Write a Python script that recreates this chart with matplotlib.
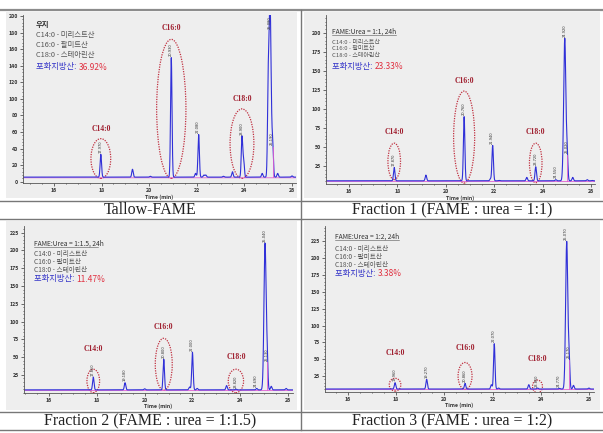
import numpy as np
import matplotlib
matplotlib.use("Agg")
import matplotlib.pyplot as plt
from matplotlib.patches import Ellipse, Rectangle
from matplotlib.ticker import MultipleLocator, AutoMinorLocator

plt.rcParams['font.family'] = ['Noto Sans CJK KR', 'DejaVu Sans']

# ==========================================
# Data (peaks)
# ==========================================

baseline = [5.5, 5.5, 4.0, 5.6]

t1 = [17.97, 19.30, 20.05, 20.93, 21.95, 22.08, 22.30, 22.38, 23.12, 23.50, 23.90, 23.97, 24.75, 25.00, 25.08, 25.19, 25.40, 26.00]
h1 = [33, 15, 6.5, 150, 10, 57, 8, 8, 6.5, 12, 54, 26, 10, 92, 215, 42, 10, 7]

t2 = [17.87, 19.18, 20.76, 21.85, 21.94, 22.20, 23.35, 23.72, 24.55, 24.92, 25.02, 25.25, 25.85, 26.05]
h2 = [23, 13, 90, 8, 52, 6, 10, 24, 7, 193, 40, 10, 7, 6]

t3 = [17.85, 19.18, 20.00, 20.80, 21.88, 22.00, 22.20, 23.43, 23.82, 24.69, 25.04, 25.13, 25.30, 25.92]
h3 = [22, 14, 5.5, 47, 8, 57, 6, 10, 5, 6, 210, 43, 9, 6]

t4 = [17.96, 19.27, 20.00, 20.86, 21.95, 22.07, 22.25, 23.50, 23.86, 24.77, 25.07, 25.17, 25.35, 25.99]
h4 = [15, 20, 5.5, 14, 12, 73, 7, 12, 7, 6.5, 225, 49, 11, 7]

# labelled peaks (index into the lists above)
lab1 = [0, 3, 5, 10, 14, 15]
lab2 = [0, 2, 4, 7, 8, 9, 10]
lab3 = [0, 1, 3, 5, 8, 9, 10, 11]
lab4 = [0, 1, 3, 5, 8, 9, 10, 11]

# C14/C16/C18 circles: (peak index, y centre, width, height, label y)
circ1 = [(0, 28, 0.83, 48, 59), (3, 88, 1.23, 168, 181), (10, 46, 1.0, 84, 95)]
circ2 = [(0, 31, 0.52, 48, 64), (2, 63, 0.87, 121, 131), (7, 29, 0.52, 52, 64)]
circ3 = [(0, 16.5, 0.53, 33, 56), (3, 40, 0.71, 73, 87), (8, 16.5, 0.64, 33, 44)]
circ4 = [(0, 12, 0.48, 19, 53), (3, 25, 0.58, 40, 61), (8, 9.5, 0.41, 19, 45)]
circ_names = ["C14:0", "C16:0", "C18:0"]

headers = ["우지", "FAME:Urea = 1:1, 24h", "FAME:Urea = 1:1.5, 24h", "FAME:Urea = 1:2, 24h"]
sat_pct = ["36.92%", "23.33%", "11.47%", "3.38%"]
acids = ["C14:0 - 미리스트산", "C16:0 - 팔미트산", "C18:0 - 스테아린산"]
captions = ["Tallow-FAME", "Fraction 1 (FAME : urea = 1:1)",
            "Fraction 2 (FAME : urea = 1:1.5)", "Fraction 3 (FAME : urea = 1:2)"]

y_limits = [(-1.6, 201.4), (1.3, 223.6), (0.0, 234.4), (1.6, 248.0)]
x_limits = [(14.70, 26.17), (15.05, 26.17), (14.95, 26.21), (15.06, 26.20)]
y_steps = [20, 25, 25, 25]

# ==========================================
# Layout (pixels)
# ==========================================

W, H = 603, 433
fig = plt.figure(figsize=(W / 100, H / 100), dpi=100)


def frac(x0, y0, x1, y1):
    return [x0 / W, 1 - y1 / H, (x1 - x0) / W, (y1 - y0) / H]


bg = fig.add_axes([0, 0, 1, 1])
bg.set_xlim(0, W)
bg.set_ylim(H, 0)
bg.axis("off")

# grey screenshot backgrounds
for (x0, y0, x1, y1) in [(6, 12, 297, 198), (304, 12, 600, 198), (6, 221, 297, 410), (304, 221, 600, 410)]:
    bg.add_patch(Rectangle((x0, y0), x1 - x0, y1 - y0, color="#eeeeee", lw=0, zorder=0))

# table lines
bg.plot([0, W], [10, 10], color="#8c8c8c", lw=1.6)
for yy in [201, 219, 412, 430]:
    bg.plot([0, W], [yy, yy], color="#777777", lw=1.0)
bg.plot([301, 301], [10, 430], color="#777777", lw=1.0)

cap_pos = [(150, 210), (452, 210), (150, 421), (452, 421)]
for (cx, cy), txt in zip(cap_pos, captions):
    bg.text(cx, cy, txt, ha="center", va="center", fontsize=11.5,
            family="Liberation Serif", color="#222222")

axes_px = [(23, 15, 296, 183), (326, 15, 595, 184), (24, 226, 293, 392.7), (325, 226, 594, 391.7)]
text_pos = [(36, 25, [35, 45, 55], 67),
            (332, 31.5, [42, 48.7, 55.4], 66.5),
            (34, 243.3, [254.3, 262, 270], 279),
            (335, 236.7, [249, 257.3, 265], 273.3)]
acid_size = [5.3, 4.3, 4.8, 4.8]

peaks = [(t1, h1, lab1, circ1), (t2, h2, lab2, circ2), (t3, h3, lab3, circ3), (t4, h4, lab4, circ4)]

t = np.linspace(14.5, 26.5, 6000)

for i, (tt, hh, labs, circs) in enumerate(peaks):
    ax = fig.add_axes(frac(*axes_px[i]))
    ax.set_facecolor("none")
    base = baseline[i]
    ymax = y_limits[i][1]

    # build the trace from the peak list
    sig = np.array([0.045 if h > 180 else 0.03 for h in hh])
    y = np.full_like(t, base)
    for tp, hp, s in zip(tt, hh, sig):
        y += (hp - base) * np.exp(-0.5 * ((t - tp) / s) ** 2)

    ax.plot(t, np.full_like(t, base - 0.8), color="#e060d0", lw=0.6)
    ax.plot(t, y, color="#3030d8", lw=0.8)
    big = int(np.argmax(hh))
    ax.plot([tt[big + 1], tt[big + 1]], [base, hh[big + 1]], color="#e060d0", lw=0.6)

    for k in labs:
        if hh[k] + 2 > ymax - 20:
            ax.text(tt[k] - 0.02, ymax - 1, "%.3f" % tt[k], rotation=90, fontsize=2.6,
                    ha="center", va="top", color="#333333", family="DejaVu Sans")
        else:
            ax.text(tt[k] - 0.02, hh[k] + 2, "%.3f" % tt[k], rotation=90, fontsize=2.6,
                    ha="center", va="bottom", color="#333333", family="DejaVu Sans")

    for (k, yc, wd, ht, ly), name in zip(circs, circ_names):
        ax.add_patch(Ellipse((tt[k], yc), wd, ht, fill=False, ec="#c03040",
                             ls=(0, (1, 1)), lw=0.9))
        ax.text(tt[k], ly, name, ha="center", va="bottom", fontsize=5.5,
                family="Liberation Serif", weight="bold", color="#a02030")

    ax.set_xlim(*x_limits[i])
    ax.set_ylim(*y_limits[i])
    ax.xaxis.set_major_locator(MultipleLocator(2))
    ax.xaxis.set_minor_locator(MultipleLocator(0.5))
    ax.yaxis.set_major_locator(MultipleLocator(y_steps[i]))
    ax.yaxis.set_minor_locator(AutoMinorLocator(5))
    if i > 0:
        ax.set_yticks([v for v in range(25, int(ymax), 25)])
    ax.tick_params(labelsize=3.8, length=2, width=0.5, pad=1.5, colors="#333333")
    ax.tick_params(which="minor", length=1, width=0.4)
    for lbl in ax.get_xticklabels() + ax.get_yticklabels():
        lbl.set_fontweight("bold")
    for s in ["top", "right"]:
        ax.spines[s].set_visible(False)
    for s in ["left", "bottom"]:
        ax.spines[s].set_linewidth(0.6)
        ax.spines[s].set_color("#555555")
    ax.set_xlabel("Time (min)", fontsize=3.8, weight="bold", labelpad=1, color="#333333")

    # legend-like text block
    tx, hy, ly_list, sy = text_pos[i]
    bg.text(tx, hy, headers[i], fontsize=5.3 if i == 0 else 4.8, va="center", color="#333333",
            weight="bold" if i == 0 else "normal")
    if i > 0:
        bg.plot([tx, tx + 64], [hy + 3.2, hy + 3.2], color="#555555", lw=0.4)
    for yy, a in zip(ly_list, acids):
        bg.text(tx, yy, a, fontsize=acid_size[i], va="center", color="#555555")
    lab = bg.text(tx, sy, "포화지방산: ", fontsize=6.0, va="center", color="#3535c8")
    bg.annotate(sat_pct[i], xycoords=lab, xy=(1, 0.5), va="center",
                fontsize=6.0, color="#e03040")

fig.savefig("out.png", dpi=100)
